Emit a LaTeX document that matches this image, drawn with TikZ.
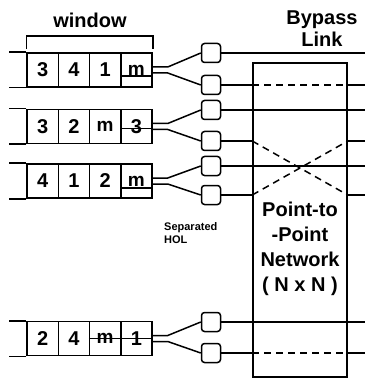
\documentclass[tikz,border=0pt]{standalone}
\usepackage{fontspec}
\setmainfont{Liberation Sans}
\usetikzlibrary{positioning,calc}
\newcommand{\mm}{{\fontsize{19}{19}\selectfont\bfseries m}}
\tikzset{
  cell/.style={draw, line width=1.5pt, minimum width=31.25pt, minimum height=34pt, inner sep=0pt, font=\fontsize{20}{20}\bfseries},
  holbox/.style={draw, line width=1.5pt, rounded corners=3pt, minimum size=19pt, inner sep=0pt},
  wire/.style={line width=1.5pt},
  xwire/.style={wire, dash pattern=on 7pt off 5pt},
  lbl/.style={font=\fontsize{20}{22}\bfseries, align=center, inner sep=0pt},
}
\begin{document}
\begin{tikzpicture}[x=1pt,y=-1pt]
  \useasboundingbox (0,0) rectangle (365,379);
  % input queues
  \foreach \q/\ym/\a/\b/\c/\d/\h/\dy in {1/70/3/4/1/\mm/4/6, 2/126.5/3/2/\mm/3/4/2, 3/181/4/1/2/\mm/4/7, 4/338.5/2/4/\mm/1/3/0} {
    \foreach \t [count=\k] in {\a,\b,\c,\d}
      \node[cell] (q\q c\k) at (11.375+31.25*\k, \ym) {\t};
    \draw[wire] (q\q c1.north west) -- ++(-17,0);
    \draw[wire] (q\q c1.south west) -- ++(-17,0);
    \draw[wire] ([yshift=-\dy pt]q\q c\h.west) -- ([yshift=-\dy pt]q\q c4.east);
  }
  \node[lbl] (win) at (90,20) {window};
  \draw[wire] ([yshift=3pt]q1c1.north west) |- ([yshift=16pt]q1c4.north east) -- ([yshift=3pt]q1c4.north east);
  % HOL buffers
  \foreach \i/\y in {1/53,2/85,3/110,4/141,5/166,6/195,7/322,8/353} {
    \node[holbox] (b\i) at (211,\y) {};
    \coordinate (o\i) at (365,\y);
  }
  \foreach \q/\u/\l in {1/1/2,2/3/4,3/5/6,4/7/8} {
    \draw[wire] ([yshift=3pt]q\q c4.east) -- ++(15,0) -- (b\u.west);
    \draw[wire] ([yshift=-3pt]q\q c4.east) -- ++(15,0) -- (b\l.west);
  }
  % switch
  \node[draw, line width=1.5pt, minimum width=94pt, minimum height=314pt, inner sep=0pt] (net) at (300,220) {};
  \node[lbl, font=\fontsize{20}{25}\bfseries] (nettxt) at (300,249) {Point-to\\-Point\\Network\\( N x N )};
  \foreach \i in {1,3,5,7}
    \draw[wire] (b\i.east) -- (o\i);
  \foreach \i in {2,8} {
    \draw[wire] (b\i.east) -- (b\i -| net.west);
    \draw[xwire] (b\i -| net.west) -- (b\i -| net.east);
    \draw[wire] (b\i -| net.east) -- (o\i);
  }
  \foreach \i/\j in {4/6,6/4} {
    \draw[wire] (b\i.east) -- (b\i -| net.west);
    \draw[xwire] (b\i -| net.west) -- (b\j -| net.east);
    \draw[wire] (b\j -| net.east) -- (o\j);
  }
  \node[lbl] (bypass) at (322,29) {Bypass\\Link};
  \node[font=\fontsize{11}{13}\bfseries, align=left, anchor=west, inner sep=0pt] (sep) at (164,233) {Separated\\HOL};
\end{tikzpicture}
\end{document}
